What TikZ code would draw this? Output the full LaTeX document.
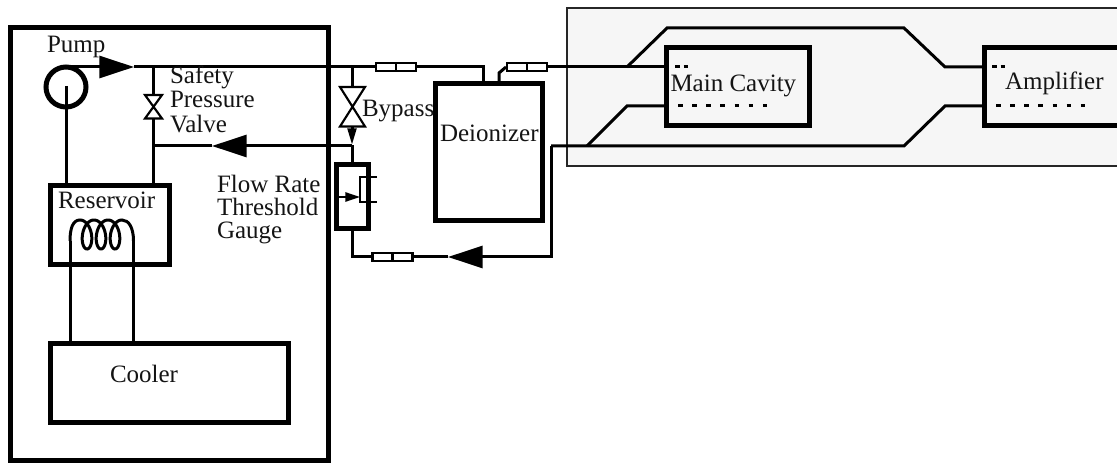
\documentclass[tikz,border=0pt]{standalone}
\usepackage{fontspec}
\setmainfont{Liberation Serif}
\usetikzlibrary{arrows.meta}
\definecolor{panel}{HTML}{F6F6F6}
\tikzset{
  unit/.style={x=0.75pt,y=-0.75pt},
  label/.style={anchor=base west,inner sep=0pt,outer sep=0pt,font=\fontsize{18.75pt}{18.75pt}\selectfont,text=black!92},
  box/.style={draw,line width=3.75pt,inner sep=0pt,outer sep=0pt},
  pipe/.style={line width=2.25pt,line join=miter},
  fitting/.style={draw,fill=white,line width=1.6pt,inner sep=0pt,outer sep=0pt,minimum width=30pt,minimum height=6.4pt},
  bigarrow/.style={pipe,-{Triangle[length=26pt,width=16.5pt]}},
  smallarrow/.style={pipe,-{Triangle[length=12.5pt,width=6.5pt]}},
  tinyarrow/.style={line width=1.2pt,-{Triangle[length=11pt,width=7pt]}},
  valvepart/.style={draw,fill=white,line width=1.6pt,line join=miter},
}
\begin{document}
\begin{tikzpicture}[unit]
\useasboundingbox (0,0) rectangle (1117,463);
% shaded panel
\fill[panel] (567,8) rectangle (1117,166);
\draw[line width=1.7pt,black!85] (1117,8) -- (567,8) -- (567,166) -- (1117,166);

% boxes
\node[box,minimum width=318*.75pt,minimum height=433*.75pt] (outer) at (169,244) {};
\node[box,minimum width=119*.75pt,minimum height=79*.75pt] (reservoir) at (110,225) {};
\node[box,minimum width=238*.75pt,minimum height=79*.75pt] (cooler) at (169.5,383) {};
\node[box,minimum width=107*.75pt,minimum height=137*.75pt] (deion) at (489,152) {};
\node[box,minimum width=32*.75pt,minimum height=64*.75pt] (gauge) at (352,197) {};
\node[box,minimum width=143*.75pt,minimum height=78*.75pt] (cavity) at (738,86.5) {};
\draw[line width=3.75pt] (1117,47.5) -- (984.5,47.5) -- (984.5,125.5) -- (1117,125.5);
\coordinate (ampin) at (984.5,67);
\coordinate (ampout) at (984.5,106);

% pump
\node[draw,circle,line width=3.75pt,minimum size=40*.75pt,inner sep=0pt,outer sep=0pt] (pump) at (66,87) {};
\coordinate (pumpc) at (66,86);
\coordinate (pumparrow) at (134,67);
\coordinate (pumpjunction) at (153,67);
\coordinate (byj) at (352,67);
\coordinate (deioninj) at (483,67);
\coordinate (deionoutj) at (499,73);
\coordinate (deionoutk) at (506,67);
\coordinate (splittop) at (627,67);
\coordinate (hitop) at (667,28);
\coordinate (hitop2) at (904,28);
\coordinate (ampup) at (945,67);
\coordinate (cavin) at (666.5,67);
\coordinate (cavout) at (666.5,106);

% supply
\draw[bigarrow] (pump.north) -- (pumparrow);
\draw[pipe] (pumparrow) -- (pumpjunction) -- (byj) -- (deioninj) -- (deioninj |- deion.north);
\draw[pipe] (pumpc) -- (pumpc |- reservoir.north);
\draw[pipe] (pumpjunction) -- (153,183);
\draw[pipe] (byj) -- (352,87);
\draw[pipe] (deionoutk) -- (splittop) -- (cavin);
\draw[pipe] (deion.north -| deionoutj) -- (deionoutj) -- (deionoutk);
\draw[pipe] (splittop) -- (hitop) -- (hitop2) -- (ampup) -- (ampin);

% return
\coordinate (retr) at (551,146);
\coordinate (retc) at (551,257);
\coordinate (retarrow) at (448,257);
\coordinate (retg) at (352,257);
\coordinate (split) at (587,146);
\coordinate (cavlow) at (627,106);
\coordinate (lowb) at (904,146);
\coordinate (amplow) at (945,106);
\coordinate (bypassend) at (352,145);
\coordinate (retarrow2) at (212,146);
\coordinate (retvalve) at (153,146);
\draw[pipe] (ampout) -- (amplow) -- (lowb) -- (retr);
\draw[pipe] (split) -- (cavlow) -- (cavout);
\draw[bigarrow] (retr) -- (retc) -- (retarrow);
\draw[pipe] (retarrow) -- (retg) -- (gauge.south);
\draw[pipe] (gauge.north) -- (bypassend);
\draw[bigarrow] (352,146) -- (retarrow2);
\draw[pipe] (retarrow2) -- (retvalve);

% fittings
\node[fitting] (fa) at (396,67) {}; \draw[line width=1.6pt] (fa.north) -- (fa.south);
\node[fitting] (fb) at (527,67) {}; \draw[line width=1.6pt] (fb.north) -- (fb.south);
\node[fitting] (fc) at (392.5,257) {}; \draw[line width=1.6pt] (fc.north) -- (fc.south);

% valves
\draw[valvepart] (145,95) -- (162,95) -- (145,118.5) -- (162,118.5) -- cycle;
\draw[valvepart] (340,87) -- (365,87) -- (340,126.5) -- (365,126.5) -- cycle;
\coordinate (bypasslow) at (352,127);
\draw[smallarrow] (bypasslow) -- (bypassend);

% gauge internals
\coordinate (ga) at (338.5,197);
\coordinate (gb) at (360,197);
\coordinate (gc) at (377,177);
\coordinate (gd) at (360,177);
\coordinate (ge) at (360,202);
\coordinate (gf) at (377,202);
\draw[tinyarrow] (ga) -- (gb);
\draw[line width=1.2pt] (gc) -- (gd) -- (ge) -- (gf);

% coil
\coordinate (coilL) at (70,241);
\coordinate (coilR) at (133.5,241);
\draw[line width=2.25pt] (coilL) .. controls (70,228) and (73,220) .. (80,220)
  -- plot[domain=0:18.85,samples=140,smooth,variable=\t] ({80+2.228*\t+8*sin(\t r)},{234.5-14.5*cos(\t r)})
  .. controls (129,220) and (133.5,228) .. (coilR);
\draw[pipe] (coilL) -- (coilL |- cooler.north);
\draw[pipe] (coilR) -- (coilR |- cooler.north);

% dashes
\coordinate (da) at (675,67); \coordinate (db) at (688,67);
\coordinate (dc) at (678,106); \coordinate (dd) at (767,106);
\coordinate (de) at (992,67); \coordinate (df) at (1006,67);
\coordinate (dg) at (996,106); \coordinate (dh) at (1085,106);
\draw[line width=2.25pt,dash pattern=on 3.5pt off 3pt] (da) -- (db);
\draw[line width=2.25pt,dash pattern=on 3.5pt off 7.1pt] (dc) -- (dd);
\draw[line width=2.25pt,dash pattern=on 3.5pt off 3pt] (de) -- (df);
\draw[line width=2.25pt,dash pattern=on 3.5pt off 7.1pt] (dg) -- (dh);

% text
\node[label] (tpump) at (47,53) {Pump};
\node[label] (t1) at (170,84) {Safety};
\node[label] (t2) at (170,108) {Pressure};
\node[label] (t3) at (170,132.5) {Valve};
\node[label] (t4) at (217,193) {Flow Rate};
\node[label] (t5) at (217,216) {Threshold};
\node[label] (t6) at (217,239) {Gauge};
\node[label] (t7) at (58,209) {Reservoir};
\node[label] (t8) at (110,382) {Cooler};
\node[label] (t9) at (362,117) {Bypass};
\node[label] (t10) at (440,142) {Deionizer};
\node[label] (t11) at (670.5,92) {Main Cavity};
\node[label] (t12) at (1005,90) {Amplifier};
\end{tikzpicture}
\end{document}
